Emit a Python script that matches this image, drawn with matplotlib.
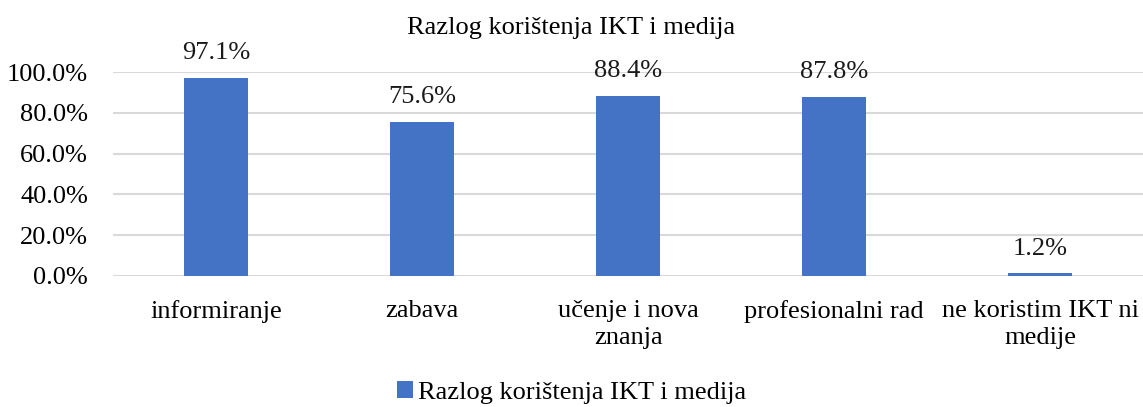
import matplotlib.pyplot as plt
import matplotlib.ticker as ticker

categories = ["informiranje", "zabava", "učenje i nova\nznanja", "profesionalni rad", "ne koristim IKT ni\nmedije"]
values = [97.1, 75.6, 88.4, 87.8, 1.2]
series_name = "Razlog korištenja IKT i medija"

plt.rcParams["font.family"] = ["Liberation Serif", "DejaVu Serif"]

fig = plt.figure(figsize=(11.43, 4.07), dpi=100)
ax = fig.add_axes([0.099, 0.322, 0.901, 0.501])

x = range(len(categories))
bars = ax.bar(x, values, width=0.31, color="#4472C4", label=series_name, zorder=3)

for rect, v in zip(bars, values):
    ax.annotate(f"{v:.1f}%", xy=(rect.get_x() + rect.get_width() / 2, v),
                xytext=(0, 10), textcoords="offset points",
                ha="center", va="bottom", fontsize=19, color="#1a1a1a")

ax.set_xlim(-0.5, len(categories) - 0.5)
ax.set_ylim(0, 100)
ax.yaxis.set_major_locator(ticker.MultipleLocator(20))
ax.yaxis.set_major_formatter(ticker.FuncFormatter(lambda v, _: f"{v:.1f}%"))
ax.yaxis.grid(True, color="#d9d9d9", linewidth=1.5, zorder=0)
ax.set_axisbelow(True)

ax.set_xticks(list(x))
ax.set_xticklabels(categories, fontsize=19, linespacing=1.3)
ax.tick_params(axis="y", labelsize=19, length=0, pad=18)
ax.tick_params(axis="x", length=0, pad=17)
for s in ax.spines.values():
    s.set_visible(False)

fig.text(0.5, 0.93, series_name, ha="center", va="center", fontsize=19)

fig.legend(loc="center", bbox_to_anchor=(0.5, 0.035), frameon=False, fontsize=19,
           handlelength=0.6, handleheight=0.6, handletextpad=0.2)

fig.savefig("out.png", dpi=100)
